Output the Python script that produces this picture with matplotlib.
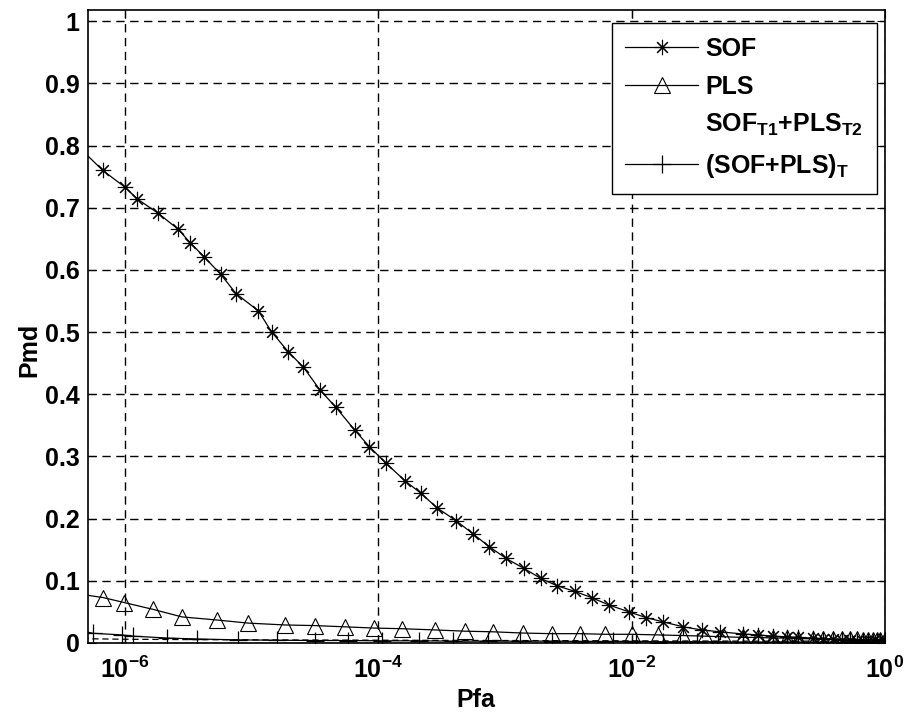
import matplotlib
matplotlib.use("Agg")
import matplotlib.pyplot as plt

plt.rcParams['font.family'] = ['Liberation Sans', 'DejaVu Sans']
plt.rcParams['font.weight'] = 'bold'
plt.rcParams['mathtext.fontset'] = 'custom'
plt.rcParams['mathtext.rm'] = 'Liberation Sans:bold'
plt.rcParams['mathtext.it'] = 'Liberation Sans:bold'
plt.rcParams['mathtext.bf'] = 'Liberation Sans:bold'
plt.rcParams['mathtext.default'] = 'rm'

# right end points shared by all marker series
pfa_tail = [7.55e-2, 9.91e-2, 0.130, 0.168, 0.205, 0.269, 0.323, 0.387, 0.456,
            0.527, 0.598, 0.668, 0.731, 0.802, 0.861, 0.910, 1.0]

# SOF
pfa_sof = [4.6e-7, 6.67e-7, 1.0e-6, 1.25e-6, 1.83e-6, 2.64e-6, 3.26e-6, 4.21e-6, 5.69e-6,
           7.52e-6, 1.13e-5, 1.44e-5, 1.95e-5, 2.55e-5, 3.46e-5, 4.62e-5, 6.53e-5,
           8.47e-5, 1.15e-4, 1.62e-4, 2.16e-4, 2.92e-4, 4.09e-4, 5.55e-4, 7.50e-4,
           1.02e-3, 1.41e-3, 1.91e-3, 2.58e-3, 3.56e-3, 4.82e-3, 6.64e-3, 9.55e-3,
           1.29e-2, 1.77e-2, 2.55e-2, 3.56e-2, 4.97e-2] + pfa_tail
pmd_sof = [0.792, 0.760, 0.733, 0.714, 0.691, 0.665, 0.644, 0.621, 0.593, 0.562, 0.534,
           0.500, 0.468, 0.444, 0.407, 0.379, 0.342, 0.316, 0.289, 0.261, 0.241,
           0.217, 0.197, 0.176, 0.155, 0.136, 0.120, 0.104, 0.092, 0.083, 0.073,
           0.061, 0.050, 0.041, 0.034, 0.026, 0.021, 0.018, 0.0145, 0.013, 0.011,
           0.010, 0.009, 0.008, 0.007, 0.006, 0.005, 0.005, 0.004, 0.004, 0.003,
           0.003, 0.003, 0.002, 0.002]

# PLS
pfa_pls = [4.6e-7, 6.74e-7, 9.87e-7, 1.67e-6, 2.81e-6, 5.30e-6, 9.40e-6, 1.83e-5, 3.16e-5,
           5.45e-5, 9.29e-5, 1.53e-4, 2.80e-4, 4.82e-4, 8.07e-4, 1.39e-3, 2.33e-3,
           3.90e-3, 6.15e-3, 9.98e-3, 1.61e-2, 2.54e-2, 3.78e-2, 5.35e-2] + pfa_tail
pmd_pls = [0.078, 0.073, 0.065, 0.054, 0.042, 0.037, 0.032, 0.029, 0.028, 0.026, 0.024,
           0.023, 0.021, 0.019, 0.018, 0.016, 0.015, 0.015, 0.014, 0.014, 0.013,
           0.012, 0.011, 0.010,
           0.009, 0.009, 0.008, 0.008, 0.007, 0.007, 0.007, 0.006, 0.006, 0.006,
           0.006, 0.005, 0.005, 0.005, 0.005, 0.005, 0.005]

# SOF_T1 + PLS_T2
pfa_mix = [4.6e-7, 1e-6, 1e-5, 1e-4, 1e-3, 1e-2, 1e-1, 1.0]
pmd_mix = [0.007, 0.006, 0.005, 0.0045, 0.004, 0.0035, 0.003, 0.003]

# (SOF+PLS)_T
pfa_tot = [4.6e-7, 5.62e-7, 9.42e-7, 1.16e-6, 2.13e-6, 3.68e-6, 7.84e-6, 1.57e-5, 3.16e-5,
           5.75e-5, 1.06e-4, 2.10e-4, 3.86e-4, 7.36e-4, 1.31e-3, 2.33e-3, 4.03e-3,
           7.15e-3, 1.09e-2, 1.77e-2, 2.40e-2, 3.25e-2, 4.79e-2] + pfa_tail
pmd_tot = [0.019, 0.0156, 0.013, 0.011, 0.008, 0.0065, 0.005, 0.0045, 0.004, 0.004,
           0.0035, 0.0035, 0.003, 0.003, 0.003, 0.003, 0.0025, 0.0025, 0.0025,
           0.002, 0.002, 0.002, 0.002,
           0.0015, 0.0015, 0.0015, 0.0015, 0.0015, 0.001, 0.001, 0.001, 0.001,
           0.001, 0.001, 0.001, 0.001, 0.001, 0.001, 0.001, 0.001]

labels = ['SOF', 'PLS', r'SOF$_{T1}$+PLS$_{T2}$', r'(SOF+PLS)$_{T}$']

fig = plt.figure(figsize=(9.05, 7.17), dpi=100)
ax = fig.add_axes([88 / 905, 1 - 643 / 717, (885 - 88) / 905, (643 - 10) / 717])

ax.plot(pfa_sof, pmd_sof, color='k', lw=0.9, marker=(8, 2, 0), ms=11, mew=0.8,
        markevery=slice(1, None), label=labels[0])
ax.plot(pfa_pls, pmd_pls, color='k', lw=0.9, marker='^', ms=11, mew=0.8, mfc='none',
        markevery=slice(1, None), label=labels[1])
ax.plot(pfa_mix, pmd_mix, color='k', lw=0.9, ls=(0, (5, 3)), label=labels[2])
ax.plot(pfa_tot, pmd_tot, color='k', lw=0.9, marker='+', ms=13, mew=0.9,
        markevery=slice(1, None), label=labels[3])

ax.set_xscale('log')
ax.set_xlim(5.1e-7, 1.0)
ax.set_ylim(0, 1.018)
ax.set_xticks([1e-6, 1e-4, 1e-2, 1e0])
ax.set_xticks([], minor=True)
ax.set_yticks([0, 0.1, 0.2, 0.3, 0.4, 0.5, 0.6, 0.7, 0.8, 0.9, 1.0])
ax.set_yticklabels(['0', '0.1', '0.2', '0.3', '0.4', '0.5', '0.6', '0.7', '0.8', '0.9', '1'])
ax.tick_params(direction='in', length=6, width=0.8, top=True, right=True,
               labelsize=18)
ax.tick_params(axis='x', pad=10)
ax.tick_params(axis='y', pad=6)
ax.grid(True, color='k', ls=(0, (6, 4)), lw=1.0)
for s in ax.spines.values():
    s.set_linewidth(1.2)

ax.set_xlabel('Pfa', fontsize=18, fontweight='bold')
ax.set_ylabel('Pmd', fontsize=18, fontweight='bold')
ax.xaxis.set_label_coords(0.486, -0.071)
ax.yaxis.set_label_coords(-0.058, 0.463)

leg = ax.legend(loc='upper right', bbox_to_anchor=(877 / 905, 1 - 23 / 717),
                bbox_transform=fig.transFigure, borderaxespad=0, fontsize=18,
                handlelength=2.9, handletextpad=0.3, labelspacing=0.55,
                borderpad=0.55, fancybox=False, framealpha=1, edgecolor='k')
leg.get_frame().set_linewidth(1.0)
leg.get_lines()[2].set_visible(False)

fig.savefig('out.png', dpi=100)
